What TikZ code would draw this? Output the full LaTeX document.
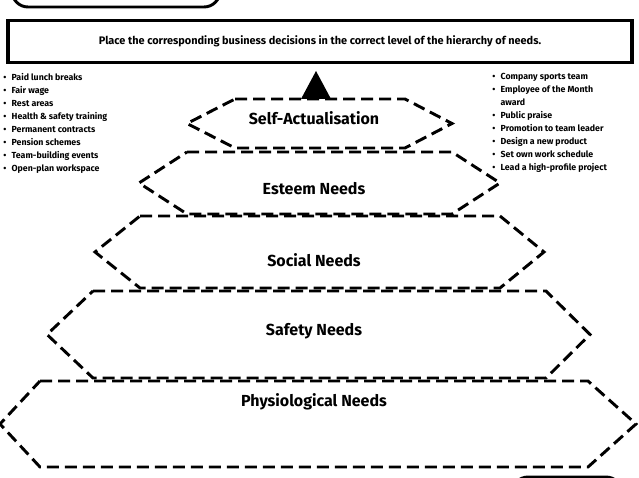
\documentclass[tikz,border=0pt]{standalone}
\usepackage{fontspec}
\setmainfont{Fira Sans}
\usetikzlibrary{positioning}

\tikzset{
  level/.style={draw=black, line width=2.2pt, dash pattern=on 9pt off 4.5pt},
  levellabel/.style={font=\bfseries\fontsize{12}{14}\selectfont},
  itemlist/.style={font=\bfseries\fontsize{6.6}{9.75}\selectfont, align=left, anchor=north west, inner sep=0pt},
}

% hexagon: top y, bottom y, inner left x, inner right x, left point x, right point x
\newcommand{\hexlevel}[6]{%
  \draw[level] (#3,#1) -- (#4,#1) -- (#6,{(#1+#2)/2}) -- (#4,#2) -- (#3,#2) -- (#5,{(#1+#2)/2}) -- cycle;}

\begin{document}
\begin{tikzpicture}[x=0.75pt,y=-0.75pt]
    \useasboundingbox (0,0) rectangle (639,478);

    % Partial boxes at the edges
    \draw[line width=2.2pt, rounded corners=12pt] (12,-30) rectangle (220,7);
    \draw[line width=2.2pt, rounded corners=12pt] (512,477) rectangle (622,520);

    % Instruction box
    \node[draw, line width=2.4pt, minimum width=468pt, minimum height=32pt,
      font=\bfseries\fontsize{8.2}{10}\selectfont] (task) at (320,41.5)
      {Place the corresponding business decisions in the correct level of the hierarchy of needs.};

    % Lists of decisions
    \node[itemlist] (leftlist) at (3,73) {%
      •\hspace{4pt}Paid lunch breaks\\ •\hspace{4pt}Fair wage\\ •\hspace{4pt}Rest areas\\
      •\hspace{4pt}Health \& safety training\\ •\hspace{4pt}Permanent contracts\\
      •\hspace{4pt}Pension schemes\\ •\hspace{4pt}Team-building events\\
      •\hspace{4pt}Open-plan workspace};
    \node[itemlist] (rightlist) at (492,73) {%
      •\hspace{4pt}Company sports team\\ •\hspace{4pt}Employee of the Month\\
      \hphantom{•}\hspace{4pt}award\\ •\hspace{4pt}Public praise\\
      •\hspace{4pt}Promotion to team leader\\ •\hspace{4pt}Design a new product\\
      •\hspace{4pt}Set own work schedule\\ •\hspace{4pt}Lead a high-profile project};

    % Pyramid levels
    \hexlevel{381}{467}{40}{588}{0}{636}
    \hexlevel{291}{378}{93}{546}{47}{590}
    \hexlevel{216}{288}{140}{500}{95}{544}
    \hexlevel{152}{214}{187}{452}{139}{500}
    \hexlevel{99}{148}{235}{405}{187}{452}

    % Apex triangle
    \fill (316,71) -- (331,99) -- (301,99) -- cycle;

    % Level names
    \node[levellabel] (selfact) at (314,118) {Self-Actualisation};
    \node[levellabel] (esteem) at (314,189) {Esteem Needs};
    \node[levellabel] (social) at (314,260) {Social Needs};
    \node[levellabel] (safety) at (314,331) {Safety Needs};
    \node[levellabel] (physio) at (314,402) {Physiological Needs};
  \end{tikzpicture}
\end{document}
